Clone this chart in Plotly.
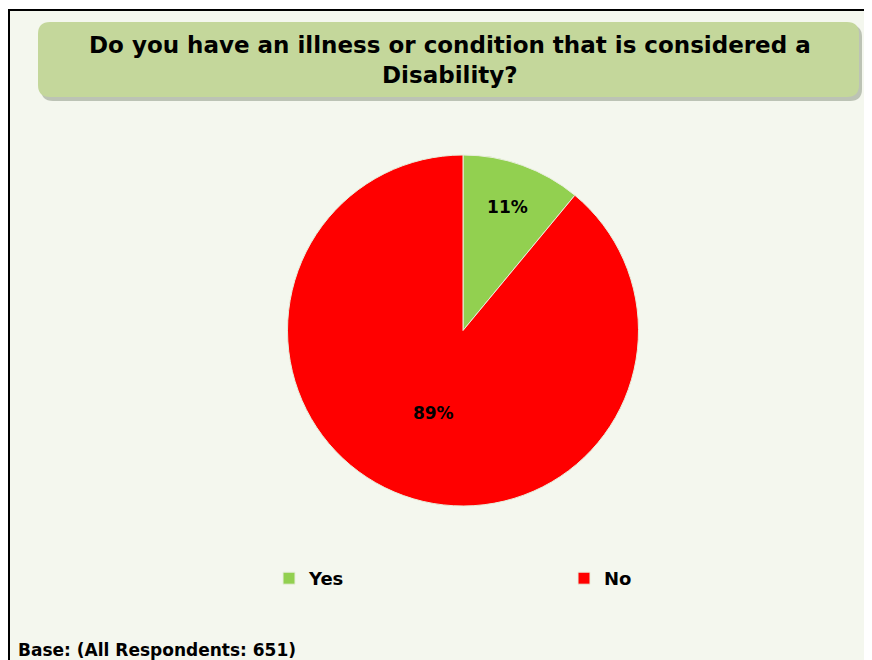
import plotly.graph_objects as go

W, H = 872, 660
# the page puts the figure 8px in from the top-left corner
OFF = 8

labels = ['Yes', 'No']
values = [11, 89]
colors = ['#92d050', '#ff0000']

title_text = 'Do you have an illness or condition that is considered a<br>Disability?'
base_text = 'Base: (All Respondents: 651)'


def px(x):
    return (x - OFF) / W


def py(y):
    return 1 - (y - OFF) / H


def rounded_rect(x0, y0, x1, y1, r):
    # path in paper units, corners drawn with quadratic curves
    rx, ry = r / W, r / H
    X0, X1 = px(x0), px(x1)
    Y0, Y1 = py(y0), py(y1)
    return (f'M {X0 + rx},{Y0} L {X1 - rx},{Y0} Q {X1},{Y0} {X1},{Y0 - ry} '
            f'L {X1},{Y1 + ry} Q {X1},{Y1} {X1 - rx},{Y1} '
            f'L {X0 + rx},{Y1} Q {X0},{Y1} {X0},{Y1 + ry} '
            f'L {X0},{Y0 - ry} Q {X0},{Y0} {X0 + rx},{Y0} Z')


fig = go.Figure()

fig.add_trace(go.Pie(
    labels=labels,
    values=values,
    sort=False,
    direction='clockwise',
    rotation=0,
    marker=dict(colors=colors, line=dict(color='#e8eedc', width=1)),
    texttemplate='%{percent:.0%}',
    textposition='inside',
    insidetextorientation='horizontal',
    textfont=dict(family='DejaVu Sans', size=17, color='black', weight='bold'),
    domain=dict(x=[px(287), px(639)], y=[py(506), py(155)]),
    hoverinfo='label+percent',
))

fig.update_layout(
    width=W,
    height=H,
    margin=dict(l=0, r=0, t=0, b=0),
    paper_bgcolor='white',
    plot_bgcolor='white',
    font=dict(family='DejaVu Sans', color='black'),
    showlegend=True,
    legend=dict(
        orientation='h',
        x=px(269), y=py(560),
        xanchor='left', yanchor='top',
        entrywidth=250, entrywidthmode='pixels',
        font=dict(size=18, family='DejaVu Sans', weight='bold'),
        bgcolor='rgba(0,0,0,0)',
        itemclick=False,
    ),
    shapes=[
        # chart area background and frame
        dict(type='rect', xref='paper', yref='paper',
             x0=1 / W, y0=py(10), x1=px(W + 20), y1=py(H + 20),
             fillcolor='#f4f7ee', line=dict(color='black', width=2), layer='below'),
        # title box shadow
        dict(type='path', xref='paper', yref='paper',
             path=rounded_rect(41, 25, 862, 101, 12),
             fillcolor='rgba(120,130,110,0.45)', line=dict(width=0), layer='below'),
        # title box
        dict(type='path', xref='paper', yref='paper',
             path=rounded_rect(38, 22, 859, 97, 12),
             fillcolor='#c4d79b', line=dict(width=0), layer='below'),
    ],
    annotations=[
        dict(text=title_text, xref='paper', yref='paper',
             x=px(450), y=py(60), xanchor='center', yanchor='middle',
             showarrow=False, align='center',
             font=dict(size=23, family='DejaVu Sans', weight='bold', color='black')),
        dict(text=base_text, xref='paper', yref='paper',
             x=px(16), y=py(650), xanchor='left', yanchor='middle',
             showarrow=False,
             font=dict(size=17, family='DejaVu Sans', weight='bold', color='black')),
    ],
)

fig.write_html('out.html')
